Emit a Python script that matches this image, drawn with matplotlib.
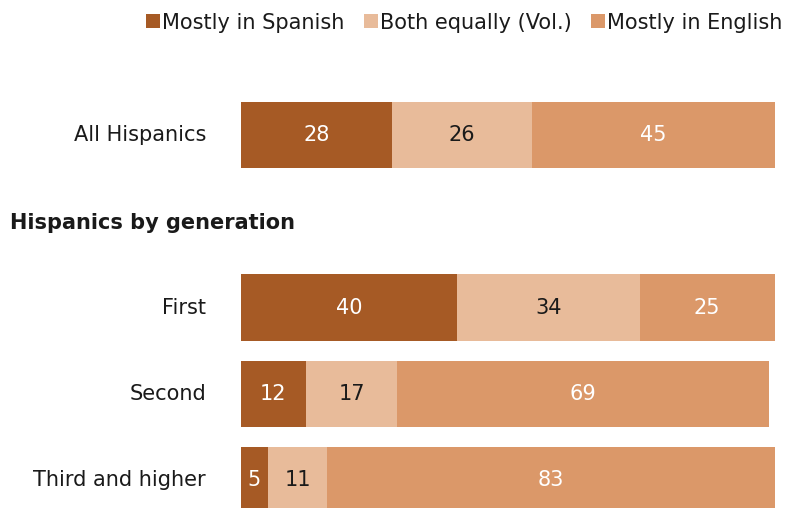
import matplotlib.pyplot as plt
from matplotlib.patches import Patch

plt.rcParams["font.family"] = ["DejaVu Sans"]

# ---------------------------------------------------------------------------
#  data
# ---------------------------------------------------------------------------
groups = ["All Hispanics", "First", "Second", "Third and higher"]
slots = [0, 2, 3, 4]          # row positions (slot 1 holds the subheading)
spanish = [28, 40, 12, 5]
both = [26, 34, 17, 11]
english = [45, 25, 69, 83]

series_names = ["Mostly in Spanish", "Both equally (Vol.)", "Mostly in English"]
colors = ["#A65A25", "#E8BB9A", "#DB9869"]
text_colors = ["white", "#1a1a1a", "white"]

W, H = 787, 508
FS = 15
fig = plt.figure(figsize=(W / 100, H / 100), dpi=100)

# axes placed in pixel coordinates: x 241..780 maps 0..100
x0, x1 = 241, 780
ax = fig.add_axes([x0 / W, 0, (x1 - x0) / W, 1])
ax.set_xlim(0, 100)
# row centres: slot 0 at px 135, step 86.25 px
y_top_px, step = 135, 86.25
ax.set_ylim((H - y_top_px) / step, -y_top_px / step)
ax.axis("off")

left = [0] * len(groups)
for vals, c, tc in zip([spanish, both, english], colors, text_colors):
    ax.barh(slots, vals, left=left, height=0.77, color=c, edgecolor="none")
    for s, l, v in zip(slots, left, vals):
        ax.text(l + v / 2, s, str(v), ha="center", va="center",
                color=tc, fontsize=FS)
    left = [l + v for l, v in zip(left, vals)]

for s, g in zip(slots, groups):
    ax.text(-6.5, s, g, ha="right", va="center", fontsize=FS,
            color="#1a1a1a")

fig.text(10 / W, 1 - 223 / H, "Hispanics by generation", ha="left",
         va="center", fontsize=FS, fontweight="bold", color="#1a1a1a")

handles = [Patch(facecolor=c, edgecolor="none") for c in colors]
fig.legend(handles, series_names, loc="upper right",
           bbox_to_anchor=(1.018, 1.012), ncol=3, frameon=False,
           fontsize=FS, handlelength=0.65, handleheight=0.65,
           handletextpad=0.1, columnspacing=0.95, labelcolor="#1a1a1a")

fig.savefig("out.png", dpi=100)
